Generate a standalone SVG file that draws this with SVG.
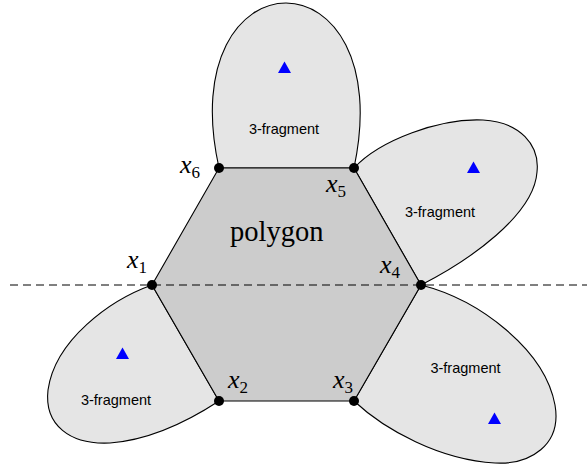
<svg xmlns="http://www.w3.org/2000/svg" width="587" height="466" viewBox="0 0 587 466">
<style>
.petal{fill:#e5e5e5;stroke:#000;stroke-width:1.1}
.poly{fill:#cccccc;stroke:#000;stroke-width:1.1}
.tri{fill:#0000ff}
.frag{font-family:"Liberation Sans","DejaVu Sans",sans-serif;font-size:14.5px;fill:#000;text-anchor:middle}
.m{font-family:"Liberation Serif","DejaVu Serif",serif;font-size:26px;fill:#000}
.mi{font-style:italic}
.sub{font-size:17px}
.dot{fill:#000}
</style>
<rect width="587" height="466" fill="#fff"/>
<g id="fragment-top">
<path class="petal" d="M219,168 C195,60 240,3 286,3 C332,3 377,60 354,168 Z"/>
<polygon class="tri" points="284.5,61.5 291,73 278,73"/>
<text class="frag" x="284" y="134">3-fragment</text>
</g>
<g id="fragment-right-upper">
<path class="petal" d="M354,168 C380,140 440,118 483,120 C520,122 540,145 537,172 C534,215 470,260 421,285 Z"/>
<polygon class="tri" points="473.5,161.5 480,173 467,173"/>
<text class="frag" x="440" y="217">3-fragment</text>
</g>
<g id="fragment-right-lower">
<path class="petal" d="M421,285 C480,300 545,350 555,405 C562,445 530,465 495,463 C440,460 385,430 354,401 Z"/>
<polygon class="tri" points="494.5,412.5 501,424 488,424"/>
<text class="frag" x="465.5" y="373">3-fragment</text>
</g>
<g id="fragment-left">
<path class="petal" d="M152,285 C110,300 55,340 48,390 C44,425 70,445 110,443 C150,440 190,420 219,401 Z"/>
<polygon class="tri" points="122.5,347.5 129,359 116,359"/>
<text class="frag" x="116" y="405">3-fragment</text>
</g>
<g id="polygon">
<polygon class="poly" points="219,168 354,168 421,285 354,401 219,401 152,285"/>
<text class="m" x="230" y="241" font-size="28" style="font-size:28.5px">polygon</text>
</g>
<g id="connectors">
<line x1="10" y1="285" x2="587" y2="285" stroke="#000" stroke-width="1" stroke-dasharray="8,5"/>
</g>
<g id="x1"><circle class="dot" cx="152" cy="285" r="5"/><text class="m" x="127" y="268"><tspan class="mi">x</tspan><tspan class="sub" dy="5">1</tspan></text></g>
<g id="x2"><circle class="dot" cx="219" cy="401" r="5"/><text class="m" x="228" y="388"><tspan class="mi">x</tspan><tspan class="sub" dy="5">2</tspan></text></g>
<g id="x3"><circle class="dot" cx="354" cy="401" r="5"/><text class="m" x="333" y="388"><tspan class="mi">x</tspan><tspan class="sub" dy="5">3</tspan></text></g>
<g id="x4"><circle class="dot" cx="421" cy="285" r="5"/><text class="m" x="380" y="273"><tspan class="mi">x</tspan><tspan class="sub" dy="5">4</tspan></text></g>
<g id="x5"><circle class="dot" cx="354" cy="168" r="5"/><text class="m" x="326" y="192"><tspan class="mi">x</tspan><tspan class="sub" dy="5">5</tspan></text></g>
<g id="x6"><circle class="dot" cx="219" cy="168" r="5"/><text class="m" x="180" y="173"><tspan class="mi">x</tspan><tspan class="sub" dy="5">6</tspan></text></g>
</svg>
